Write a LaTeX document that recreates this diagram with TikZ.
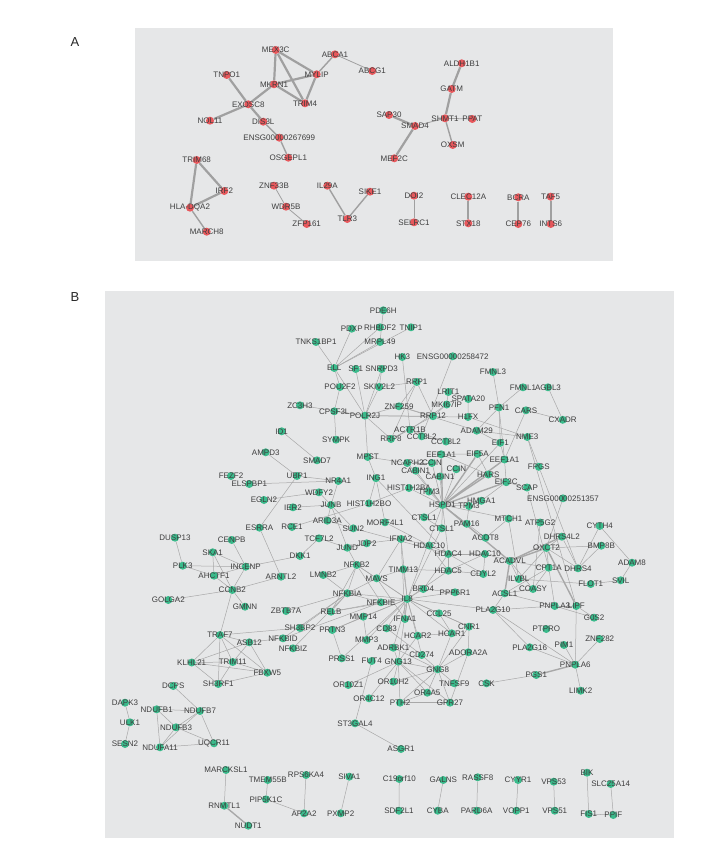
\documentclass[tikz,border=0pt]{standalone}
\usepackage{fontspec}
\setmainfont{Liberation Sans}
\definecolor{nodered}{RGB}{232,88,92}
\definecolor{nodegreen}{RGB}{58,186,139}
\definecolor{edgeA}{RGB}{160,160,160}
\definecolor{edgeB}{RGB}{168,168,168}
\definecolor{panelgray}{RGB}{230,231,232}
\definecolor{labelgray}{RGB}{62,62,62}
\pgfdeclarelayer{bg}\pgfdeclarelayer{edges}\pgfsetlayers{bg,edges,main}
\tikzset{
 rdot/.style={circle,fill=nodered,draw=none,minimum size=8pt,inner sep=0pt},
 gdot/.style={circle,fill=nodegreen,draw=none,minimum size=8pt,inner sep=0pt},
 lbl/.style={font=\fontsize{8}{9}\selectfont,text=labelgray,inner sep=0pt},
 ea/.style={draw=edgeA,line width=2.2pt},
 eam/.style={draw=edgeA,line width=1.4pt},
 eat/.style={draw=edgeA,line width=0.8pt},
 eb/.style={draw=edgeB,line width=0.5pt},
 ebt/.style={draw=edgeB,line width=1.4pt},
 panel/.style={fill=panelgray,draw=none},
 plabel/.style={font=\fontsize{13}{13}\selectfont,text=black!85,inner sep=0pt}
}
\newcommand{\rnd}[4]{\node[rdot,label={[lbl]center:#4}] (#1) at (#2,#3) {};}
\newcommand{\gnd}[4]{\node[gdot,label={[lbl]center:#4}] (#1) at (#2,#3) {};}
\begin{document}
\begin{tikzpicture}[x=1pt,y=-1pt]
\useasboundingbox (0,0) rectangle (720,861);
\begin{pgfonlayer}{bg}
\fill[panel] (135,28) rectangle (613,261);
\fill[panel] (105,290.5) rectangle (674,838);
\end{pgfonlayer}
\node[plabel] (labA) at (75,42) {A};
\node[plabel] (labB) at (75,297) {B};
% ---------- Panel A nodes
\rnd{MEXC}{275.7}{50}{MEX3C}
\rnd{ABCA}{335}{54.3}{ABCA1}
\rnd{TNPO}{226.7}{75}{TNPO1}
\rnd{MYLIP}{316.7}{74.3}{MYLIP}
\rnd{ABCG}{372.3}{71}{ABCG1}
\rnd{MKRN}{274}{84.3}{MKRN1}
\rnd{EXOSC}{248.3}{104.3}{EXOSC8}
\rnd{TRIMf}{305}{103.3}{TRIM4}
\rnd{NOL}{210}{120.7}{NOL11}
\rnd{DISL}{263.3}{121.7}{DIS3L}
\rnd{ENSGa}{279.3}{137.7}{ENSG00000267699}
\rnd{OSGEP}{288.3}{157.7}{OSGEPL1}
\rnd{TRIMsx}{196.7}{160}{TRIM68}
\rnd{IRF}{224.3}{191}{IRF2}
\rnd{HLA}{190}{207.7}{HLA-DQA2}
\rnd{MARCH}{206.7}{231.7}{MARCH8}
\rnd{ZNFtt}{274}{185.7}{ZNF33B}
\rnd{WDR}{286}{206.7}{WDR5B}
\rnd{ZFP}{306.7}{224}{ZFP161}
\rnd{ILtn}{327.3}{185.7}{IL29A}
\rnd{TLR}{347.3}{219}{TLR3}
\rnd{SIKE}{370}{191.7}{SIKE1}
\rnd{ALDH}{461.7}{63.3}{ALDH1B1}
\rnd{GATM}{451.7}{89}{GATM}
\rnd{SAP}{389}{115}{SAP30}
\rnd{SHMT}{445}{118.3}{SHMT1}
\rnd{PPAT}{472.3}{119}{PPAT}
\rnd{SMADf}{415}{126}{SMAD4}
\rnd{OXSM}{452.7}{145}{OXSM}
\rnd{MEF}{394.3}{158.3}{MEF2C}
\rnd{DOI}{414}{195.7}{DOI2}
\rnd{SELRC}{414}{222.3}{SELRC1}
\rnd{CLEC}{468.3}{196.7}{CLEC12A}
\rnd{STX}{468.3}{223.3}{STX18}
\rnd{BCRA}{518.3}{197.3}{BCRA}
\rnd{CEP}{518.3}{224}{CEP76}
\rnd{TAF}{550.7}{196.7}{TAF5}
\rnd{INTS}{550.7}{224}{INTS6}
% ---------- Panel B nodes
\gnd{PDE6H}{383.3}{310.3}{PDE6H}
\gnd{PDXP}{351.7}{328.7}{PDXP}
\gnd{RHBDF2}{380}{327.3}{RHBDF2}
\gnd{TNIP1}{411}{327.3}{TNIP1}
\gnd{TNKS1BP1}{316}{342}{TNKS1BP1}
\gnd{MRPL49}{380}{342}{MRPL49}
\gnd{HK3}{402.3}{357}{HK3}
\gnd{ENSGb}{452.7}{356.3}{ENSG00000258472}
\gnd{ELL}{334.3}{368}{ELL}
\gnd{SF1}{355.7}{369}{SF1}
\gnd{SNRPD3}{381.7}{369}{SNRPD3}
\gnd{FMNL3}{493}{372}{FMNL3}
\gnd{RRP1}{416.7}{382}{RRP1}
\gnd{POU2F2}{340}{387}{POU2F2}
\gnd{SKIV2L2}{379.3}{387}{SKIV2L2}
\gnd{LRIT1}{448.3}{392}{LRIT1}
\gnd{FMNL1}{523}{387.3}{FMNL1}
\gnd{AGBL3}{548}{387.3}{AGBL3}
\gnd{SPATA20}{468.3}{399}{SPATA20}
\gnd{ZC3H3}{300}{405.3}{ZC3H3}
\gnd{ZNF259}{399}{406.3}{ZNF259}
\gnd{MKI67IP}{446.7}{404.5}{MKI67IP}
\gnd{PFN1}{499}{407.5}{PFN1}
\gnd{CARS}{526}{410.3}{CARS}
\gnd{CPSF3L}{334.3}{411.3}{CPSF3L}
\gnd{POLR2J}{365}{415.7}{POLR2J}
\gnd{RRP12}{433}{416.2}{RRP12}
\gnd{H1FX}{468}{417}{H1FX}
\gnd{CXADR}{562.7}{419.8}{CXADR}
\gnd{ACTR1B}{410}{429.7}{ACTR1B}
\gnd{ADAM29}{476.7}{430.7}{ADAM29}
\gnd{ID1}{281.7}{431.3}{ID1}
\gnd{CCTa}{421.7}{436.3}{CCT8L2}
\gnd{NME3}{527.3}{437}{NME3}
\gnd{SYMPK}{336}{439.7}{SYMPK}
\gnd{RRP8}{391}{439}{RRP8}
\gnd{CCTb}{446}{441.5}{CCT8L2}
\gnd{EIF1}{500.3}{442.8}{EIF1}
\gnd{AMPD3}{265.7}{452.3}{AMPD3}
\gnd{EEFa}{441.2}{454.3}{EEF1A1}
\gnd{EIF5A}{477.5}{454}{EIF5A}
\gnd{MPST}{367.7}{457}{MPST}
\gnd{EEFb}{504.5}{459.5}{EEF1A1}
\gnd{SMAD7}{317}{460.3}{SMAD7}
\gnd{NCAPH2}{407.3}{463}{NCAPH2}
\gnd{CCINa}{432}{463}{CCIN}
\gnd{FPGS}{538.8}{466.8}{FPGS}
\gnd{CCINb}{456.3}{469.2}{CCIN}
\gnd{CABINa}{415.7}{470.7}{CABIN1}
\gnd{HARS}{488.3}{474.5}{HARS}
\gnd{CABINb}{440}{476.5}{CABIN1}
\gnd{FEZF2}{231}{476}{FEZF2}
\gnd{UBP1}{297}{476}{UBP1}
\gnd{ING1}{376}{478.2}{ING1}
\gnd{NR4A1}{338.3}{481}{NR4A1}
\gnd{EIF3C}{506.2}{482.2}{EIF3C}
\gnd{ELSPBP1}{249.3}{484}{ELSPBP1}
\gnd{SCAP}{527}{487.5}{SCAP}
\gnd{HISTa}{409}{488}{HIST1H2BA}
\gnd{TPMa}{429}{491.5}{TPM3}
\gnd{WDFY2}{319}{492.3}{WDFY2}
\gnd{ENSGc}{563}{498.3}{ENSG00000251357}
\gnd{EGLN2}{264}{500}{EGLN2}
\gnd{HMGA1}{481.3}{500.8}{HMGA1}
\gnd{HISTo}{369}{503.3}{HIST1H2BO}
\gnd{JUNB}{331}{505}{JUNB}
\gnd{HSPD1}{442.5}{505}{HSPD1}
\gnd{TPMb}{469}{506}{TPM3}
\gnd{IER2}{293}{507.3}{IER2}
\gnd{CTSLa}{424}{517.3}{CTSL1}
\gnd{MTCH1}{508.5}{518.7}{MTCH1}
\gnd{ARID3A}{327.3}{520.7}{ARID3A}
\gnd{MORF4L1}{385}{522.3}{MORF4L1}
\gnd{ATP5G2}{540.2}{522.5}{ATP5G2}
\gnd{PAM16}{466.7}{523.8}{PAM16}
\gnd{CYTH4}{599.7}{526}{CYTH4}
\gnd{RCE1}{292}{527}{RCE1}
\gnd{ESRRA}{259.5}{527.7}{ESRRA}
\gnd{SUN2}{353.3}{528.3}{SUN2}
\gnd{CTSLb}{441.7}{528.3}{CTSL1}
\gnd{DHRS4L2}{561.8}{536.7}{DHRS4L2}
\gnd{DUSP13}{175}{537.7}{DUSP13}
\gnd{ACOT8}{485.5}{537.8}{ACOT8}
\gnd{TCF7L2}{319}{538.3}{TCF7L2}
\gnd{IFNA2}{401}{539}{IFNA2}
\gnd{CENPB}{231.7}{540}{CENPB}
\gnd{JDP2}{366.7}{543.3}{JDP2}
\gnd{HDACa}{429.3}{545.5}{HDAC10}
\gnd{BMP8B}{601.3}{545.7}{BMP8B}
\gnd{JUND}{347.3}{547.7}{JUND}
\gnd{OXCT2}{546.5}{548}{OXCT2}
\gnd{SKA1}{212.7}{552.3}{SKA1}
\gnd{HDAC4}{448.3}{554}{HDAC4}
\gnd{HDACb}{485}{554}{HDAC10}
\gnd{DKK1}{300}{556}{DKK1}
\gnd{ACADVL}{509.7}{561}{ACADVL}
\gnd{ADAM8}{632}{562.7}{ADAM8}
\gnd{NFKB2}{356.7}{565}{NFKB2}
\gnd{PLK3}{182.7}{565.7}{PLK3}
\gnd{INCENP}{245.7}{566.7}{INCENP}
\gnd{CPT1A}{548.7}{567.7}{CPT1A}
\gnd{DHRS4}{578}{568.3}{DHRS4}
\gnd{TIMM13}{403.3}{569.3}{TIMM13}
\gnd{HDAC5}{448.3}{570.7}{HDAC5}
\gnd{CDYL2}{483.3}{574}{CDYL2}
\gnd{LMNB2}{323.3}{575}{LMNB2}
\gnd{AHCTF1}{214}{575.7}{AHCTF1}
\gnd{ARNTL2}{281}{576.7}{ARNTL2}
\gnd{MAVS}{376.7}{578.3}{MAVS}
\gnd{ILVBL}{518.7}{579}{ILVBL}
\gnd{SVIL}{620.7}{580.3}{SVIL}
\gnd{FLOT1}{590.7}{584}{FLOT1}
\gnd{BRD4}{423.3}{589}{BRD4}
\gnd{COASY}{533}{589}{COASY}
\gnd{CCNB2}{232.3}{590}{CCNB2}
\gnd{PPP6R1}{455}{592.3}{PPP6R1}
\gnd{NFKBIA}{347.3}{593.3}{NFKBIA}
\gnd{ACSL1}{504.7}{593.3}{ACSL1}
\gnd{IL8}{407.3}{599}{IL8}
\gnd{GOLGA2}{168.3}{600}{GOLGA2}
\gnd{NFKBIE}{381}{602.3}{NFKBIE}
\gnd{PNPLA3}{554.7}{606}{PNPLA3}
\gnd{LIPF}{576.3}{606}{LIPF}
\gnd{GMNN}{245}{606.7}{GMNN}
\gnd{PLA2G10}{493}{610}{PLA2G10}
\gnd{ZBTB7A}{286}{611}{ZBTB7A}
\gnd{RELB}{331}{611.7}{RELB}
\gnd{CCL25}{439}{613.3}{CCL25}
\gnd{MMP14}{363.3}{616.7}{MMP14}
\gnd{G0S2}{594}{617.7}{G0S2}
\gnd{IFNA1}{405}{619}{IFNA1}
\gnd{CNR1}{469}{626.7}{CNR1}
\gnd{SH3BP2}{300}{628}{SH3BP2}
\gnd{CD83}{386.7}{628.3}{CD83}
\gnd{PTPRO}{546.3}{629}{PTPRO}
\gnd{PRTN3}{332.3}{630}{PRTN3}
\gnd{HCAR1}{451.7}{633.3}{HCAR1}
\gnd{TRAF7}{220}{635}{TRAF7}
\gnd{HCAR2}{417.7}{635.7}{HCAR2}
\gnd{NFKBID}{283}{638.3}{NFKBID}
\gnd{ZNF282}{599.7}{639}{ZNF282}
\gnd{MMP3}{366.7}{640}{MMP3}
\gnd{ASB12}{249.3}{642.3}{ASB12}
\gnd{PIM1}{564}{645}{PIM1}
\gnd{PLA2G16}{529.7}{647.3}{PLA2G16}
\gnd{ADRBK1}{393.3}{647.7}{ADRBK1}
\gnd{NFKBIZ}{293}{648.3}{NFKBIZ}
\gnd{ADORA2A}{468.3}{652.3}{ADORA2A}
\gnd{CD274}{421.7}{655}{CD274}
\gnd{PRSS1}{341.7}{658.3}{PRSS1}
\gnd{FUT4}{371.7}{661}{FUT4}
\gnd{GNG13}{398.3}{661.7}{GNG13}
\gnd{TRIM11}{232.7}{662}{TRIM11}
\gnd{KLHL21}{191.7}{662.5}{KLHL21}
\gnd{PNPLA6}{575.3}{664.7}{PNPLA6}
\gnd{GNG8}{437.7}{669.3}{GNG8}
\gnd{FBXW5}{267.3}{672.7}{FBXW5}
\gnd{PGS1}{536.3}{675}{PGS1}
\gnd{OR10H2}{393.3}{681.7}{OR10H2}
\gnd{SH3RF1}{218.3}{684}{SH3RF1}
\gnd{TNFSF9}{454.3}{683.3}{TNFSF9}
\gnd{CSK}{486.5}{683.3}{CSK}
\gnd{OR10Z1}{348.3}{685}{OR10Z1}
\gnd{DCPS}{173.3}{686}{DCPS}
\gnd{LIMK2}{580.7}{690.7}{LIMK2}
\gnd{OR4A5}{427.3}{692.7}{OR4A5}
\gnd{OR4C12}{369}{698.3}{OR4C12}
\gnd{DAPK3}{125}{702.7}{DAPK3}
\gnd{PTH2}{400}{702.7}{PTH2}
\gnd{GPR27}{450}{702.7}{GPR27}
\gnd{NDUFB1}{156.7}{709.3}{NDUFB1}
\gnd{NDUFB7}{200}{711}{NDUFB7}
\gnd{ULK1}{130}{722.3}{ULK1}
\gnd{ST3GAL4}{355}{723.3}{ST3GAL4}
\gnd{NDUFB3}{176}{727.3}{NDUFB3}
\gnd{UQCR11}{214}{743.3}{UQCR11}
\gnd{SESN2}{125}{744}{SESN2}
\gnd{NDUFA11}{160}{747.3}{NDUFA11}
\gnd{ASGR1}{401}{749}{ASGR1}
\gnd{MARCKSL1}{226}{770}{MARCKSL1}
\gnd{BIK}{587}{772.7}{BIK}
\gnd{RPS6KA4}{306}{775}{RPS6KA4}
\gnd{SIVA1}{349.3}{776.7}{SIVA1}
\gnd{RASSF8}{477.7}{777.3}{RASSF8}
\gnd{C19orf10}{399.3}{779}{C19orf10}
\gnd{GALNS}{443.3}{780}{GALNS}
\gnd{TMEM55B}{267.7}{780}{TMEM55B}
\gnd{CYYR1}{518}{780}{CYYR1}
\gnd{VPS53}{553.7}{781.7}{VPS53}
\gnd{SLC25A14}{610.7}{784}{SLC25A14}
\gnd{PIP5K1C}{266}{799.3}{PIP5K1C}
\gnd{RNMTL1}{224.3}{805.7}{RNMTL1}
\gnd{SDF2L1}{399}{810.7}{SDF2L1}
\gnd{CYBA}{437.7}{810.7}{CYBA}
\gnd{PARD6A}{476.7}{810.7}{PARD6A}
\gnd{VOPP1}{516.3}{810.7}{VOPP1}
\gnd{VPS51}{554.7}{810.7}{VPS51}
\gnd{AP2A2}{304}{813.3}{AP2A2}
\gnd{PXMP2}{340.7}{813.3}{PXMP2}
\gnd{FIS1}{588.7}{814}{FIS1}
\gnd{PPIF}{613.3}{815}{PPIF}
\gnd{NUDT1}{248.3}{825.7}{NUDT1}
% ---------- Edges
\begin{pgfonlayer}{edges}
\foreach \a/\b in {MEXC/MKRN,MEXC/MYLIP,MEXC/TRIMf,MKRN/MYLIP,MKRN/TRIMf,MYLIP/TRIMf,MKRN/EXOSC,TNPO/EXOSC,EXOSC/NOL,EXOSC/DISL,TRIMsx/IRF,TRIMsx/HLA,HLA/IRF,ALDH/GATM,GATM/SHMT,SAP/SMADf,SMADf/MEF,CLEC/STX,BCRA/CEP,TAF/INTS}
  \draw[ea] (\a) -- (\b);
\foreach \a/\b in {MYLIP/ABCA,DISL/ENSGa,ENSGa/OSGEP,HLA/MARCH,ILtn/TLR,SIKE/TLR,SHMT/OXSM}
  \draw[eam] (\a) -- (\b);
\foreach \a/\b in {ABCA/ABCG,ZNFtt/WDR,WDR/ZFP,SHMT/PPAT,SHMT/SMADf,DOI/SELRC}
  \draw[eat] (\a) -- (\b);
% panel B thin edges
\foreach \a/\b in {PDE6H/MRPL49,PDXP/ELL,RHBDF2/ELL,TNIP1/ELL,MRPL49/ELL,TNKS1BP1/ELL,ELL/POLR2J,ELL/POU2F2,SF1/POLR2J,SNRPD3/POLR2J,SNRPD3/SKIV2L2,SKIV2L2/POLR2J,POU2F2/CPSF3L,CPSF3L/SYMPK,CPSF3L/POLR2J,ZC3H3/POLR2J,POLR2J/ZNF259,POLR2J/RRP12,POLR2J/MPST,POLR2J/RRP8,POLR2J/H1FX,HK3/ACTR1B,ENSGb/CCTa,RRP1/RRP12,RRP1/RRP8,RRP1/ZNF259,RRP1/SKIV2L2,RRP12/ZNF259,RRP12/MKI67IP,RRP12/RRP8,MKI67IP/LRIT1,LRIT1/SPATA20,SPATA20/H1FX,MKI67IP/ACTR1B,ACTR1B/CCTa,ACTR1B/CCTb,CCTa/CCTb,ACTR1B/RRP8,ADAM29/PFN1,ADAM29/EIF1,ADAM29/ZNF259,PFN1/FMNL3,PFN1/FMNL1,PFN1/EIF1,PFN1/EEFb,H1FX/NME3,ADAM29/NME3,AGBL3/CXADR,CARS/CXADR,CARS/EEFb,NME3/FPGS,FPGS/DHRS4,EIF1/EEFb,EIF1/HSPD1,EIF5A/EEFa,CCINa/HSPD1,CCINb/HSPD1,CABINa/HSPD1,CABINb/HSPD1,NCAPH2/CCINa,NCAPH2/HSPD1,EEFb/EIF3C,EIF3C/SCAP,EIF3C/HMGA1,EIF3C/EEFa,HARS/EIF5A,HMGA1/HSPD1,HMGA1/TPMb,TPMa/HSPD1,TPMb/HSPD1,HISTa/HSPD1,HISTa/HISTo,HISTo/ING1,ING1/MORF4L1,ING1/HDAC4,MORF4L1/HDACa,CTSLa/HSPD1,CTSLb/HSPD1,CTSLa/CTSLb,PAM16/HSPD1,PAM16/TPMb,ACOT8/HSPD1,MTCH1/HSPD1,ACOT8/MTCH1,HSPD1/IL8,HSPD1/HDAC4,HDAC4/HDACa,HDAC4/HDACb,HDAC5/HDACa,HDAC5/CDYL2,HDAC4/CDYL2,HDACb/CDYL2,HDAC5/HDACb,HDAC4/BRD4,HDAC5/TIMM13,HDACb/ACADVL,MPST/NCAPH2,MPST/ING1,UBP1/NR4A1,NR4A1/JUNB,WDFY2/JUNB,IER2/JUNB,EGLN2/WDFY2,ELSPBP1/NR4A1,JUNB/JUND,JUNB/SUN2,JUNB/ARID3A,JUND/JDP2,JUND/NFKB2,JUND/TCF7L2,ARID3A/SUN2,SUN2/HDAC4,DKK1/TCF7L2,RCE1/HISTo,LMNB2/NFKB2,JDP2/IFNA2,IFNA2/IFNA1,IFNA2/MAVS,IFNA2/IL8,IFNA2/HDACa,TIMM13/IL8,TIMM13/MAVS,NFKB2/NFKBIA,NFKB2/RELB,NFKB2/NFKBIE,NFKB2/MAVS,NFKB2/IL8,NFKBIA/RELB,NFKBIA/NFKBIE,NFKBIA/IL8,NFKBIA/NFKBID,NFKBIA/NFKBIZ,NFKBIA/ZBTB7A,NFKBIA/SH3BP2,NFKBIA/LMNB2,NFKBIA/MAVS,RELB/NFKBIE,RELB/IL8,NFKBIE/IL8,NFKBIE/NFKBID,MAVS/IL8,MAVS/IFNA1,BRD4/IL8,BRD4/PPP6R1,PPP6R1/IL8,IL8/CCL25,IL8/IFNA1,IL8/CD83,IL8/HCAR2,IL8/HCAR1,IL8/CNR1,IL8/MMP14,IL8/MMP3,IL8/PRTN3,IL8/ADRBK1,IL8/CD274,IL8/GNG13,IL8/PLA2G10,IL8/CTSLb,IL8/HDAC5,IL8/PRSS1,MMP14/MMP3,MMP14/PRTN3,PRTN3/PRSS1,CD83/CD274,CCL25/CNR1,CCL25/HCAR1,HCAR2/HCAR1,HCAR2/GNG13,HCAR1/GNG8,CNR1/GNG8,CNR1/ADORA2A,ADORA2A/GNG8,ADRBK1/GNG13,ADRBK1/GNG8,CD274/GNG8,FUT4/ST3GAL4,GNG13/OR10Z1,GNG13/OR10H2,GNG13/OR4C12,GNG13/PTH2,GNG13/OR4A5,GNG13/GPR27,GNG13/GNG8,GNG8/OR4A5,GNG8/PTH2,GNG8/GPR27,GNG8/TNFSF9,GNG8/OR10H2,GPR27/ADORA2A,PTH2/GPR27,PTH2/OR4A5,ST3GAL4/ASGR1,TRAF7/ASB12,TRAF7/KLHL21,TRAF7/TRIM11,TRAF7/SH3RF1,TRAF7/FBXW5,ASB12/KLHL21,ASB12/TRIM11,ASB12/FBXW5,KLHL21/TRIM11,KLHL21/SH3RF1,TRIM11/SH3RF1,TRIM11/FBXW5,SH3RF1/FBXW5,KLHL21/FBXW5,TRAF7/CCNB2,TRAF7/SH3BP2,ASB12/NFKBID,CCNB2/ARNTL2,CCNB2/GMNN,GOLGA2/CCNB2,DUSP13/PLK3,PLK3/INCENP,PLK3/AHCTF1,SKA1/INCENP,SKA1/AHCTF1,SKA1/CCNB2,CENPB/INCENP,INCENP/AHCTF1,INCENP/CCNB2,AHCTF1/CCNB2,INCENP/DKK1,ESRRA/UBP1,ESRRA/ARNTL2,AMPD3/UBP1,ID1/SMAD7,ACADVL/CPT1A,ACADVL/ILVBL,ACADVL/COASY,OXCT2/CPT1A,OXCT2/DHRS4,OXCT2/BMP8B,OXCT2/DHRS4L2,OXCT2/ILVBL,DHRS4L2/DHRS4,DHRS4/BMP8B,CYTH4/DHRS4,CYTH4/ADAM8,ADAM8/SVIL,SVIL/FLOT1,FLOT1/ILVBL,CPT1A/ACSL1,CPT1A/PNPLA3,CPT1A/COASY,ACSL1/COASY,ACSL1/PLA2G10,ACSL1/PNPLA3,PNPLA3/LIPF,PNPLA3/PLA2G10,LIPF/G0S2,LIPF/PNPLA6,PNPLA3/G0S2,PLA2G10/PLA2G16,PLA2G10/PNPLA6,PLA2G16/PNPLA6,PIM1/PNPLA6,ZNF282/PNPLA6,PNPLA6/LIMK2,PGS1/CSK,MTCH1/ILVBL,ATP5G2/COASY,SCAP/CPT1A,NME3/LIPF,ENSGc/OXCT2,DCPS/NDUFB7,NDUFB1/NDUFB7,NDUFB1/NDUFB3,NDUFB1/NDUFA11,NDUFB7/NDUFB3,NDUFB7/NDUFA11,NDUFB7/UQCR11,NDUFB3/NDUFA11,NDUFB3/UQCR11,NDUFA11/UQCR11,DAPK3/ULK1,ULK1/SESN2,MARCKSL1/RNMTL1,TMEM55B/PIP5K1C,PIP5K1C/AP2A2,RPS6KA4/AP2A2,SIVA1/PXMP2,C19orf10/SDF2L1,GALNS/CYBA,RASSF8/PARD6A,CYYR1/VOPP1,VPS53/VPS51,BIK/FIS1,SLC25A14/PPIF,FIS1/PPIF}
  \draw[eb] (\a) -- (\b);
\foreach \a/\b in {EIF5A/HSPD1,EEFa/HSPD1,EEFb/HSPD1,HARS/HSPD1,EIF3C/HSPD1,HSPD1/ACADVL,HDAC4/HDAC5,ACADVL/OXCT2,ACADVL/DHRS4L2,ACADVL/ACSL1,OXCT2/LIPF,PNPLA6/PGS1,RNMTL1/NUDT1}
  \draw[ebt] (\a) -- (\b);
\end{pgfonlayer}
\end{tikzpicture}
\end{document}
